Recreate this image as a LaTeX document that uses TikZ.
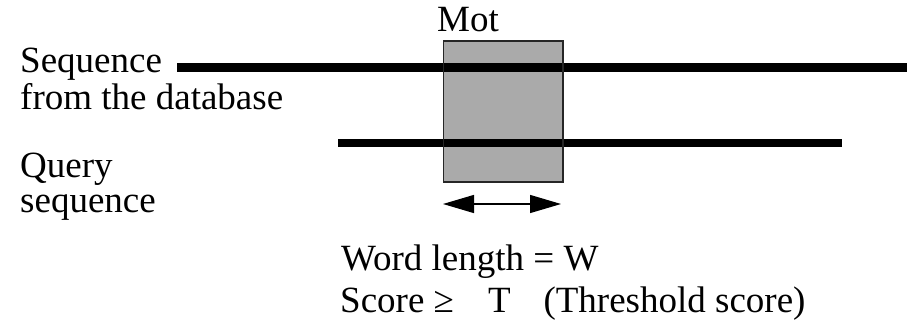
\documentclass[tikz,border=0pt]{standalone}
\usepackage{fontspec}
\setmainfont{Liberation Serif}
\usetikzlibrary{arrows.meta}
\definecolor{boxgray}{HTML}{AAAAAA}
\begin{document}
\begin{tikzpicture}[x=1pt,y=-1pt,
  lbl/.style={anchor=base west,inner sep=0pt,font=\fontsize{37}{42}\selectfont},
  seqline/.style={line width=8pt},
  boxedge/.style={draw=black!85,line width=1.4pt},
  widearrow/.style={line width=1.3pt,arrows={Triangle[length=31pt,width=18pt]-Triangle[length=31pt,width=18pt]}}]
\useasboundingbox (0,0) rectangle (907,321);
% box
\coordinate (b1) at (443.5,41);
\coordinate (b2) at (563,182);
\fill[boxgray] (b1) rectangle (b2);
% sequence lines
\coordinate (s1a) at (177,67.5);
\coordinate (s1b) at (907,67.5);
\coordinate (s2a) at (338,143.3);
\coordinate (s2b) at (842,143.3);
\draw[seqline] (s1a) -- (s1b);
\draw[seqline] (s2a) -- (s2b);
\draw[boxedge] (b1) rectangle (b2);
% labels
\node[lbl] (seq) at (20,73) {Sequence};
\node[lbl] (db) at (20,109) {from the database};
\node[lbl] (q) at (20,177) {Query};
\node[lbl] (qs) at (20,212) {sequence};
\node[lbl] (mot) at (437,32) {Mot};
\node[lbl] (wl) at (341,270) {Word length = W};
\node[lbl] (sc) at (340,312) {Score ≥\hspace{0.92em}T\hspace{0.89em}(Threshold score)};
% arrow
\coordinate (aa) at (443,204);
\coordinate (ab) at (561,204);
\draw[widearrow] (aa) -- (ab);
\end{tikzpicture}
\end{document}
